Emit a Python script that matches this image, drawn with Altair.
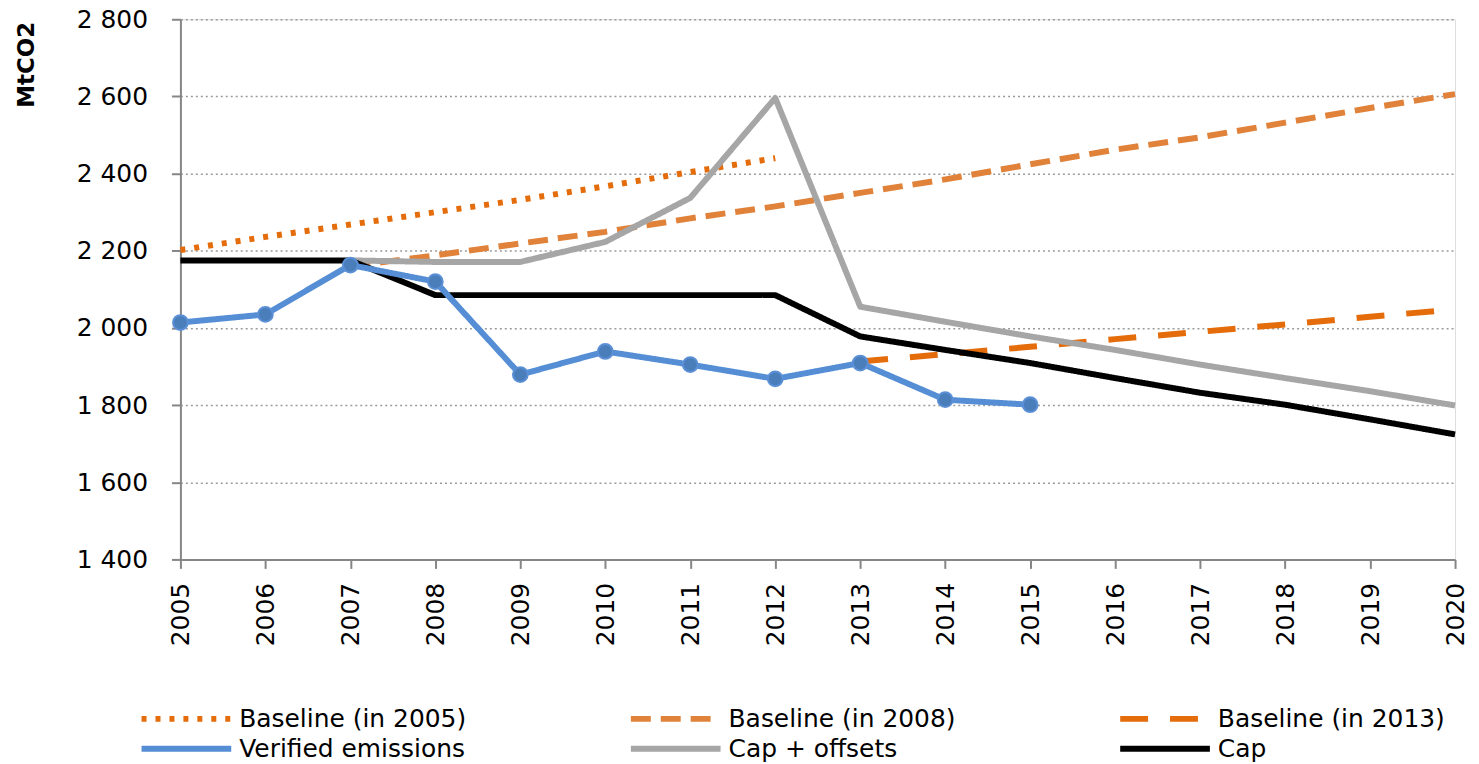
import altair as alt
import pandas as pd

# ---- data ----
series_names = ["Baseline (in 2005)", "Baseline (in 2008)", "Baseline (in 2013)",
                "Verified emissions", "Cap + offsets", "Cap"]
series_colors = ["#E46C0A", "#E0823A", "#E46C0A", "#558ED5", "#A6A6A6", "#000000"]
series_dashes = [[5, 9], [20, 10], [28, 22], [1, 0], [1, 0], [1, 0]]

years_b2005 = [2005, 2006, 2007, 2008, 2009, 2010, 2011, 2012]
vals_b2005 = [2202, 2236, 2268, 2300, 2332, 2367, 2404, 2440]

years_b2008 = [2007, 2008, 2009, 2010, 2011, 2012, 2013, 2014, 2015, 2016, 2017, 2018, 2019, 2020]
vals_b2008 = [2160, 2188, 2219, 2249, 2284, 2315, 2350, 2385, 2424, 2462, 2494, 2532, 2570, 2606]

years_b2013 = [2013, 2014, 2015, 2016, 2017, 2018, 2019, 2020]
vals_b2013 = [1913, 1932, 1951, 1971, 1990, 2009, 2029, 2048]

years_verified = [2005, 2006, 2007, 2008, 2009, 2010, 2011, 2012, 2013, 2014, 2015]
vals_verified = [2014, 2035, 2163, 2120, 1879, 1939, 1905, 1868, 1909, 1814, 1801]

years_capoff = [2007, 2008, 2009, 2010, 2011, 2012, 2013, 2014, 2015, 2016, 2017, 2018, 2019, 2020]
vals_capoff = [2175, 2171, 2171, 2223, 2337, 2596, 2055, 2016, 1978, 1943, 1905, 1870, 1836, 1799]

years_cap = list(range(2005, 2021))
vals_cap = [2175, 2175, 2175, 2085, 2085, 2085, 2085, 2085, 1978, 1943, 1909, 1870, 1832, 1801, 1763, 1724]

x_ticks = list(range(2005, 2021))
y_ticks = [1400, 1600, 1800, 2000, 2200, 2400, 2600, 2800]

# draw order (later = on top)
draw_order = [
    ("Baseline (in 2005)", years_b2005, vals_b2005),
    ("Baseline (in 2008)", years_b2008, vals_b2008),
    ("Baseline (in 2013)", years_b2013, vals_b2013),
    ("Cap + offsets", years_capoff, vals_capoff),
    ("Cap", years_cap, vals_cap),
    ("Verified emissions", years_verified, vals_verified),
]
rows = []
for order, (name, ys, vs) in enumerate(draw_order):
    for yr, v in zip(ys, vs):
        rows.append({"series": name, "year": yr, "value": v, "z": order})
df = pd.DataFrame(rows)
df_ver = pd.DataFrame({"year": years_verified, "value": vals_verified})

FONT = "DejaVu Sans"

x_enc = alt.X("year:Q",
              scale=alt.Scale(domain=[2005, 2020], nice=False, zero=False),
              axis=alt.Axis(values=x_ticks, format="d", title=None, grid=False,
                            labelAngle=-90, labelFont=FONT, labelFontSize=25,
                            labelColor="#000000", labelPadding=14,
                            tickSize=9, tickColor="#868686", tickWidth=2,
                            domainColor="#868686", domainWidth=2))
y_enc = alt.Y("value:Q",
              scale=alt.Scale(domain=[1400, 2800], nice=False, zero=False),
              axis=alt.Axis(values=y_ticks,
                            labelExpr="replace(format(datum.value, ','), ',', ' ')",
                            title="MtCO2", titleFont=FONT, titleFontSize=23,
                            titleFontWeight="bold", titleColor="#000000",
                            titleAngle=-90, titleX=-154, titleY=2,
                            titleAlign="right", titleBaseline="middle",
                            labelFont=FONT, labelFontSize=25, labelColor="#000000",
                            labelPadding=24, tickSize=9, tickColor="#868686",
                            tickWidth=2, domainColor="#868686", domainWidth=2,
                            grid=True, gridColor="#9A9A9A", gridDash=[2, 3],
                            gridWidth=1.5))

# wide horizontal stroke symbol drawn from a small nominal size
legend = alt.Legend(title=None, orient="none", legendX=-42, legendY=687,
                    direction="horizontal",
                    columns=3, columnPadding=153, rowPadding=2, gridAlign="each",
                    symbolType="M-1,0H6.5", symbolSize=576, symbolStrokeWidth=6,
                    labelFont=FONT, labelFontSize=25, labelColor="#000000",
                    labelOffset=71, labelLimit=600)

lines = alt.Chart(df).mark_line(strokeWidth=6, strokeJoin="round").encode(
    x=x_enc,
    y=y_enc,
    color=alt.Color("series:N",
                    scale=alt.Scale(domain=series_names, range=series_colors),
                    legend=legend),
    strokeDash=alt.StrokeDash("series:N",
                              scale=alt.Scale(domain=series_names, range=series_dashes),
                              legend=legend),
    detail="z:O",
    order="year:Q",
)

points = alt.Chart(df_ver).mark_point(filled=True, shape="circle", size=220,
                                      color="#4A7EBB", opacity=1,
                                      stroke="#5B8FD6", strokeWidth=2).encode(
    x=alt.X("year:Q"),
    y=alt.Y("value:Q"),
)

chart = alt.layer(lines, points).properties(
    width=1279, height=542,
    autosize=alt.AutoSizeParams(type="none"),
    padding={"left": 173, "top": 10, "right": 16, "bottom": 210},
).configure_view(stroke=None).configure(background="white")

chart.save("out.html", embed_options={"renderer": "svg", "actions": False})
